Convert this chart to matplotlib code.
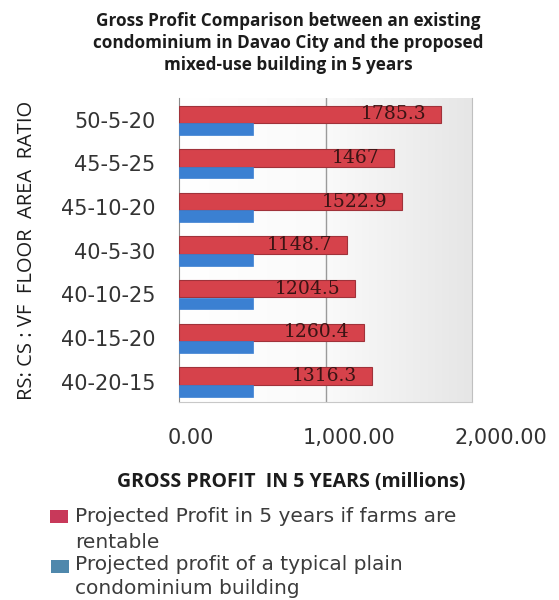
import matplotlib
matplotlib.use("Agg")
import matplotlib.pyplot as plt
import matplotlib.transforms as mtransforms
from matplotlib.patches import Rectangle
import numpy as np

ratios = ["40-20-15", "40-15-20", "40-10-25", "40-5-30", "45-10-20", "45-5-25", "50-5-20"]
farm_profit = [1316.3, 1260.4, 1204.5, 1148.7, 1522.9, 1467, 1785.3]
plain_profit = [505, 505, 505, 505, 505, 505, 505]
farm_labels = ["1316.3", "1260.4", "1204.5", "1148.7", "1522.9", "1467", "1785.3"]
xticks = [0, 1000, 2000]
xtick_labels = ["0.00", "1,000.00", "2,000.00"]
legend_lines = [["Projected Profit in 5 years if farms are", "rentable"],
                ["Projected profit of a typical plain", "condominium building"]]

RED = "#d6424b"; RED_EDGE = "#a0323a"; BLUE = "#3b80d2"; TXT = "#3c3c3c"; INK = "#1c1c1c"

plt.rcParams.update({"font.family": ["Open Sans", "DejaVu Sans"]})

fig = plt.figure(figsize=(5.59, 6.0), dpi=100)
ax = fig.add_axes([179 / 559, 1 - 402 / 600, 293 / 559, 304 / 600])

# plot-area gradient (white -> light gray)
grad = np.linspace(0, 1, 256).reshape(1, -1)
cmap = matplotlib.colors.LinearSegmentedColormap.from_list(
    "g", ["#ffffff", "#fafafa", "#e6e6e6"])
ax.imshow(grad, extent=[0, 2000, -0.47, 6.5], aspect="auto", cmap=cmap, zorder=0)

y = np.arange(len(ratios))
ax.barh(y + 0.126, farm_profit, 0.40, color=RED, edgecolor=RED_EDGE, linewidth=0.8, zorder=3)
ax.barh(y - 0.21, plain_profit, 0.27, color=BLUE, edgecolor=BLUE, linewidth=0.5, zorder=3)
for yi, v, lab in zip(y, farm_profit, farm_labels):
    ax.text(v - 100, yi + 0.126, lab, ha="right", va="center", fontsize=13.5,
            family="DejaVu Serif", color="#3a1414", zorder=4)

ax.axvline(1000, color="#9a9a9a", lw=1, zorder=1)
ax.set_xlim(0, 2000)
ax.set_ylim(-0.47, 6.5)
ax.set_yticks(y)
ax.set_yticklabels(ratios, fontsize=15, family="DejaVu Sans", color="#333333")
ax.set_xticks(xticks)
ax.set_xticklabels(xtick_labels, fontsize=15, family="DejaVu Sans", color="#333333")
ax.tick_params(axis="x", length=0, pad=19)
ax.tick_params(axis="y", length=0, pad=17)
for lbl, dx in zip(ax.get_xticklabels(), [12, 24, 29]):
    lbl.set_transform(lbl.get_transform()
                      + mtransforms.ScaledTranslation(dx / 100, 0, fig.dpi_scale_trans))
ax.spines["top"].set_visible(False)
ax.spines["left"].set_color("#8a8a8a")
ax.spines["right"].set_color("#c0c0c0")
ax.spines["bottom"].set_color("#c8c8c8")

ax.set_ylabel("RS: CS : VF  FLOOR  AREA  RATIO", fontsize=14.5, color=INK)
ax.yaxis.set_label_coords(-(179 - 37) / 293, 0.5)
ax.set_xlabel("GROSS PROFIT  IN 5 YEARS (millions)", fontsize=14, fontweight="bold",
              color=INK)
ax.xaxis.set_label_coords((291 - 179) / 293, -(472 - 402) / 304)

fig.text(0.515, 1 - 12 / 600, "Gross Profit Comparison between an existing\n"
         "condominium in Davao City and the proposed\nmixed-use building in 5 years",
         ha="center", va="top", fontsize=12.3, fontweight="bold", color=INK,
         linespacing=1.28)

# legend
squares = [(50, 510, "#c8395a"), (51, 560, "#4f88ac")]
line_y = [[517, 542], [564, 588]]
for (sx, sy, col), lines, ys in zip(squares, legend_lines, line_y):
    fig.patches.append(Rectangle((sx / 559, 1 - (sy + 13) / 600), 18 / 559, 13 / 600,
                                 transform=fig.transFigure, facecolor=col, edgecolor="none"))
    for txt, yy in zip(lines, ys):
        fig.text(75 / 559, 1 - yy / 600, txt, ha="left", va="center", fontsize=14.5,
                 family="DejaVu Sans", color=TXT)

fig.savefig("out.png", dpi=100)
